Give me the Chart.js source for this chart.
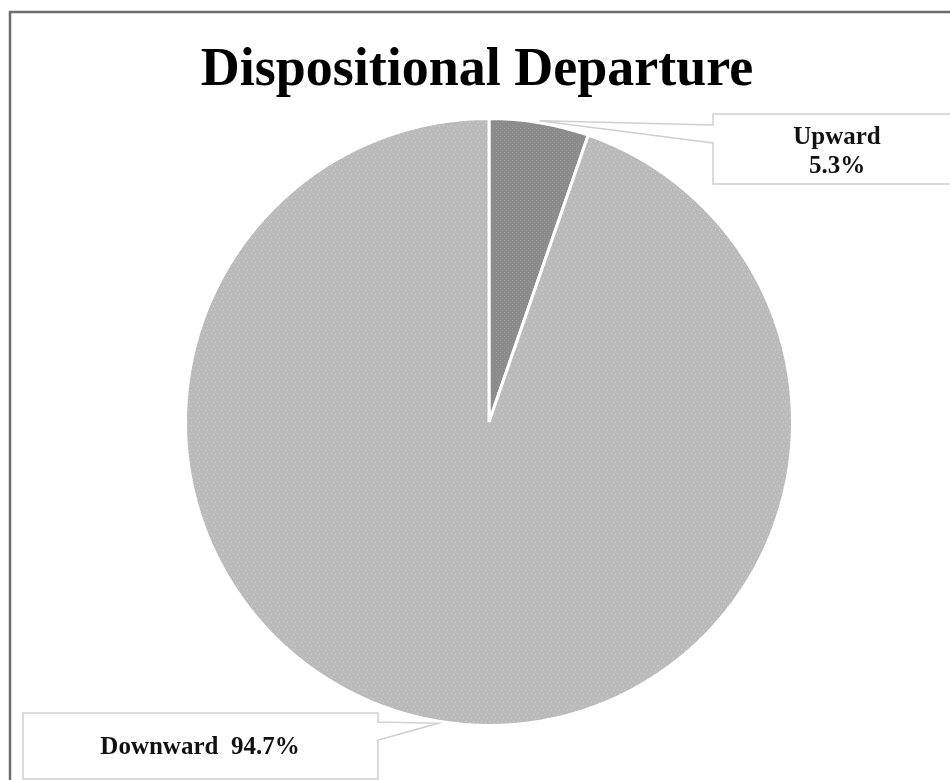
<!DOCTYPE html>
<html>
<head>
<meta charset="utf-8">
<script src="https://cdn.jsdelivr.net/npm/chart.js@4/dist/chart.umd.min.js"></script>
<style>
  html, body { margin: 0; padding: 0; background: #fff; }
  #wrap { width: 950px; height: 780px; position: relative; }
</style>
</head>
<body>
<div id="wrap"><canvas id="chart"></canvas></div>
<script>
const chartTitle = "Dispositional Departure";
const categories = ["Upward", "Downward"];
const shares = [5.3, 94.7];

// small stipple tiles to imitate the dotted fill of the original
function stipple(base, dot, dots) {
  const c = document.createElement("canvas");
  c.width = 8;
  c.height = 8;
  const g = c.getContext("2d");
  g.fillStyle = base;
  g.fillRect(0, 0, 8, 8);
  g.fillStyle = dot;
  dots.forEach(function (p) {
    g.fillRect(p[0], p[1], 1, 1);
  });
  return g.createPattern(c, "repeat");
}

const upFill = stipple("#8b8b8b", "#9a9a9a", [[0, 0], [2, 2], [4, 0], [6, 2], [0, 4], [2, 6], [4, 4], [6, 6]]);
const downFill = stipple("#bababa", "#d2d2d2", [[1, 1], [5, 2], [3, 5], [7, 6]]);

// where the callout boxes sit and where their pointer meets the box
const callouts = [
  { box: [713, 114, 260, 70], base: ["left", 125, 143] },
  { box: [23, 713, 355, 66], base: ["right", 722, 740] },
];

const calloutPlugin = {
  id: "callouts",
  afterDraw: function (chart) {
    const ctx = chart.ctx;
    ctx.save();

    // outer frame (right and bottom run off the page)
    ctx.strokeStyle = "#6e6e6e";
    ctx.lineWidth = 2.5;
    ctx.strokeRect(10, 12, 980, 800);

    ctx.fillStyle = "#000";
    ctx.font = "bold 54px 'Liberation Serif'";
    ctx.textAlign = "center";
    ctx.textBaseline = "alphabetic";
    ctx.fillText(chartTitle, 477, 85);

    const arcs = chart.getDatasetMeta(0).data;
    arcs.forEach(function (arc, i) {
      const c = callouts[i];
      const mid = (arc.startAngle + arc.endAngle) / 2;
      const tx = arc.x + Math.cos(mid) * (arc.outerRadius + 2);
      const ty = arc.y + Math.sin(mid) * (arc.outerRadius + 2);
      const x = c.box[0], y = c.box[1], w = c.box[2], h = c.box[3];

      ctx.beginPath();
      if (c.base[0] === "left") {
        ctx.moveTo(x, y);
        ctx.lineTo(x + w, y);
        ctx.lineTo(x + w, y + h);
        ctx.lineTo(x, y + h);
        ctx.lineTo(x, c.base[2]);
        ctx.lineTo(tx, ty);
        ctx.lineTo(x, c.base[1]);
      } else {
        ctx.moveTo(x, y);
        ctx.lineTo(x + w, y);
        ctx.lineTo(x + w, c.base[1]);
        ctx.lineTo(tx, ty);
        ctx.lineTo(x + w, c.base[2]);
        ctx.lineTo(x + w, y + h);
        ctx.lineTo(x, y + h);
      }
      ctx.closePath();
      ctx.fillStyle = "#fff";
      ctx.fill();
      ctx.strokeStyle = "#cfcfcf";
      ctx.lineWidth = 1.5;
      ctx.stroke();

      const pct = shares[i].toFixed(1) + "%";
      ctx.fillStyle = "#111";
      ctx.font = "bold 25px 'Liberation Serif'";
      ctx.textBaseline = "middle";
      if (i === 0) {
        ctx.fillText(categories[i], 837, 138);
        ctx.fillText(pct, 837, 167);
      } else {
        ctx.fillText(categories[i] + "  " + pct, 200, 748);
      }
    });

    ctx.restore();
  },
};

new Chart(document.getElementById("chart"), {
  type: "pie",
  data: {
    labels: categories,
    datasets: [
      {
        data: shares,
        backgroundColor: [upFill, downFill],
        borderColor: "#fff",
        borderWidth: 3,
      },
    ],
  },
  options: {
    responsive: true,
    maintainAspectRatio: false,
    animation: false,
    layout: {
      padding: { left: 184, right: 156, top: 117, bottom: 53 },
    },
    plugins: {
      legend: { display: false },
      tooltip: { enabled: false },
      title: { display: false },
    },
  },
  plugins: [calloutPlugin],
});
</script>
</body>
</html>
